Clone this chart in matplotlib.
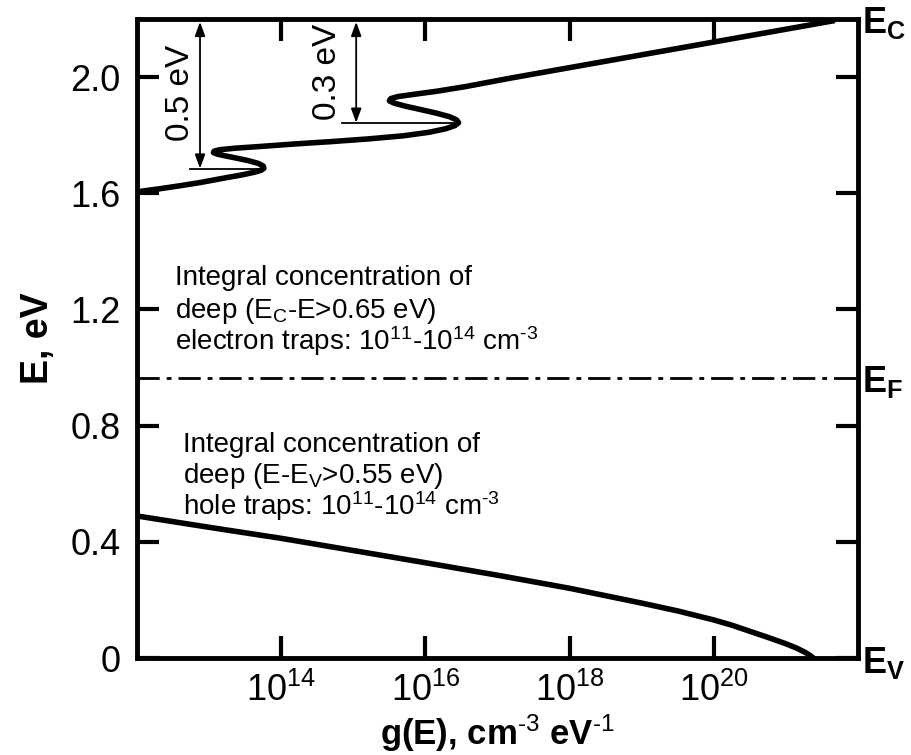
import numpy as np
import matplotlib
matplotlib.use("Agg")
import matplotlib.pyplot as plt
from matplotlib.transforms import blended_transform_factory

plt.rcParams['font.family'] = ['Liberation Sans', 'DejaVu Sans']
plt.rcParams['mathtext.fontset'] = 'custom'
plt.rcParams['mathtext.rm'] = 'Liberation Sans'
plt.rcParams['mathtext.it'] = 'Liberation Sans:italic'
plt.rcParams['mathtext.bf'] = 'Liberation Sans:bold'
plt.rcParams['mathtext.default'] = 'regular'
plt.rcParams['lines.scale_dashes'] = False

# ---- data ----
# conduction band tail: energy (eV) and log10 g(E)
cb_E = [1.605, 1.615, 1.626, 1.638, 1.652, 1.663, 1.672, 1.679, 1.686, 1.694,
        1.703, 1.712, 1.721, 1.729, 1.735, 1.740, 1.745, 1.750, 1.755, 1.761,
        1.770, 1.778, 1.787, 1.798, 1.810, 1.822, 1.833, 1.843, 1.853, 1.864,
        1.876, 1.889, 1.900, 1.910, 1.918, 1.926, 1.933, 1.941, 1.951, 1.967,
        1.996, 2.100, 2.193]
cb_logg = [12.00, 12.30, 12.60, 12.90, 13.20, 13.45, 13.62, 13.72, 13.76, 13.75,
           13.68, 13.55, 13.38, 13.22, 13.11, 13.06, 13.07, 13.15, 13.35, 13.70,
           14.20, 14.70, 15.20, 15.70, 16.05, 16.28, 16.41, 16.46, 16.43, 16.33,
           16.15, 15.92, 15.72, 15.57, 15.50, 15.52, 15.62, 15.85, 16.15, 16.55,
           17.17, 19.53, 21.64]
# valence band
vb_E = [0.489, 0.450, 0.412, 0.370, 0.328, 0.285, 0.240, 0.189, 0.162, 0.131,
        0.113, 0.092, 0.071, 0.049, 0.034, 0.019, 0.008, 0.0]
vb_logg = [12.00, 13.00, 14.00, 15.00, 16.00, 17.00, 18.00, 19.00, 19.50, 20.00,
           20.25, 20.50, 20.75, 21.00, 21.15, 21.27, 21.34, 21.38]

E_F = 0.964
xticks = [1e14, 1e16, 1e18, 1e20]
xticklabels = [r'$10^{14}$', r'$10^{16}$', r'$10^{18}$', r'$10^{20}$']
yticks = [0, 0.4, 0.8, 1.2, 1.6, 2.0]
yticklabels = ['0', '0.4', '0.8', '1.2', '1.6', '2.0']

block1 = ['Integral concentration of',
          r'deep ($E_C$-E>0.65 eV)',
          r'electron traps: $10^{11}$-$10^{14}$ cm$^{\text{-3}}$']
block2 = ['Integral concentration of',
          r'deep (E-$E_V$>0.55 eV)',
          r'hole traps: $10^{11}$-$10^{14}$ cm$^{\text{-3}}$']

# ---- figure ----
fig = plt.figure(figsize=(9.12, 7.55), dpi=100)
ax = fig.add_axes([137/912, 1-658/755, 721/912, 639/755])

ax.plot(10**np.array(cb_logg), cb_E, color='k', lw=4.0, solid_joinstyle='round')
ax.plot(10**np.array(vb_logg), vb_E, color='k', lw=4.0, solid_joinstyle='round')
ax.axhline(E_F, color='k', lw=2.0, dashes=(16, 5, 3.5, 5))

ax.set_xscale('log')
ax.set_xlim(1e12, 1e22)
ax.set_ylim(0, 2.2)
ax.set_xticks(xticks)
ax.set_xticklabels(xticklabels)
ax.xaxis.set_minor_locator(matplotlib.ticker.NullLocator())
ax.set_yticks(yticks)
ax.set_yticklabels(yticklabels)
ax.tick_params(direction='in', length=16, width=3, labelsize=26,
               top=True, right=True)
ax.tick_params(axis='y', pad=12)
ax.tick_params(axis='x', pad=11)
for s in ax.spines.values():
    s.set_linewidth(3.5)

ax.set_xlabel(r'g(E), cm$^{\text{-3}}$ eV$^{\text{-1}}$', fontsize=25, fontweight='bold', labelpad=2)
ax.set_ylabel('E, eV', fontsize=27, fontweight='bold', labelpad=10)

# energy markers and arrows
ax.plot([10**12.735, 10**13.74], [1.685, 1.685], color='k', lw=1.3)
ax.plot([10**14.84, 10**16.43], [1.843, 1.843], color='k', lw=1.3)
for xa, e0 in [(10**12.874, 1.685), (10**15.04, 1.843)]:
    ax.annotate('', xy=(xa, 2.19), xytext=(xa, e0),
                arrowprops=dict(arrowstyle='<|-|>,head_length=0.6,head_width=0.22',
                                lw=1.3, color='k', mutation_scale=14,
                                shrinkA=0, shrinkB=0))
ax.text(10**12.6, 1.945, '0.5 eV', rotation=90, ha='center', va='center', fontsize=24)
ax.text(10**14.64, 2.017, '0.3 eV', rotation=90, ha='center', va='center', fontsize=24)

# text blocks
for txt, yb in zip(block1, [1.284, 1.172, 1.060]):
    ax.text(10**12.53, yb, txt, fontsize=20, ha='left', va='baseline')
for txt, yb in zip(block2, [0.709, 0.602, 0.494]):
    ax.text(10**12.64, yb, txt, fontsize=20, ha='left', va='baseline')

# band labels on the right
tr = blended_transform_factory(ax.transAxes, ax.transData)
for lab, yb in [(r'$\mathbf{E_C}$', 2.151), (r'$\mathbf{E_F}$', 0.916), (r'$\mathbf{E_V}$', -0.052)]:
    ax.text(1.006, yb, lab, transform=tr, fontsize=26, ha='left', va='baseline',
            clip_on=False)

fig.savefig('out.png', dpi=100)
